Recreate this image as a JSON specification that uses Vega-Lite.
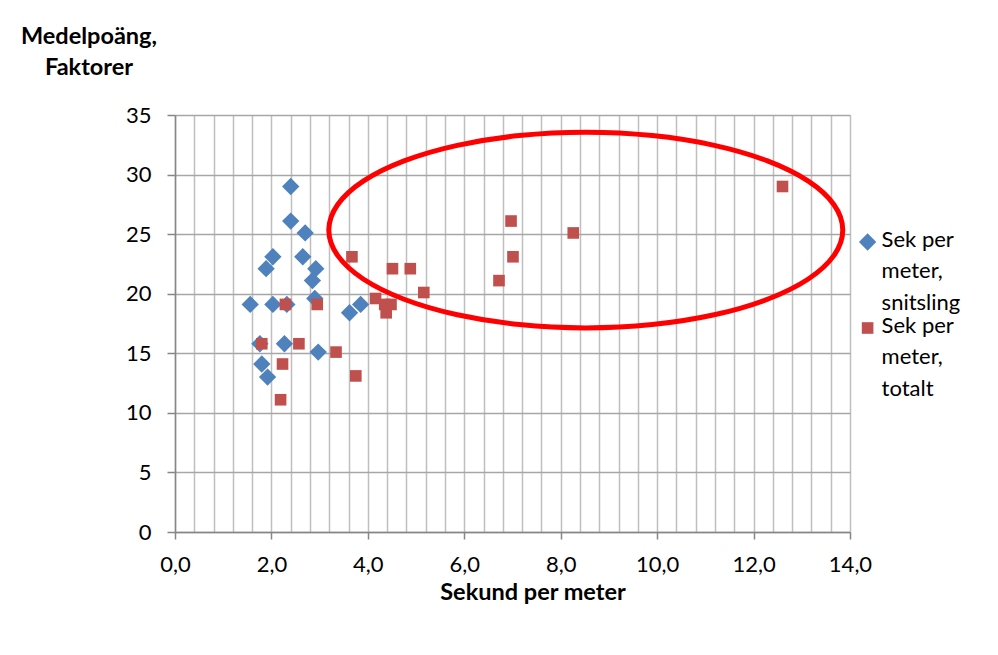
{
  "$schema": "https://vega.github.io/schema/vega-lite/v6.json",
  "width": 675,
  "height": 417,
  "autosize": {"type": "none"},
  "padding": {"left": 175, "top": 115, "right": 148, "bottom": 123},
  "background": "white",
  "config": {"view": {"stroke": null}, "font": "Lato"},
  "datasets": {
    "points": [
      {"sek": 2.4, "poang": 29, "serie": "Sek per meter, snitsling"},
      {"sek": 2.4, "poang": 26.1, "serie": "Sek per meter, snitsling"},
      {"sek": 2.7, "poang": 25.1, "serie": "Sek per meter, snitsling"},
      {"sek": 2.03, "poang": 23.1, "serie": "Sek per meter, snitsling"},
      {"sek": 2.65, "poang": 23.1, "serie": "Sek per meter, snitsling"},
      {"sek": 1.89, "poang": 22.1, "serie": "Sek per meter, snitsling"},
      {"sek": 2.92, "poang": 22.1, "serie": "Sek per meter, snitsling"},
      {"sek": 2.85, "poang": 21.1, "serie": "Sek per meter, snitsling"},
      {"sek": 2.9, "poang": 19.6, "serie": "Sek per meter, snitsling"},
      {"sek": 1.56, "poang": 19.1, "serie": "Sek per meter, snitsling"},
      {"sek": 2.03, "poang": 19.1, "serie": "Sek per meter, snitsling"},
      {"sek": 2.32, "poang": 19.1, "serie": "Sek per meter, snitsling"},
      {"sek": 3.62, "poang": 18.4, "serie": "Sek per meter, snitsling"},
      {"sek": 3.85, "poang": 19.1, "serie": "Sek per meter, snitsling"},
      {"sek": 1.76, "poang": 15.8, "serie": "Sek per meter, snitsling"},
      {"sek": 2.27, "poang": 15.8, "serie": "Sek per meter, snitsling"},
      {"sek": 2.97, "poang": 15.1, "serie": "Sek per meter, snitsling"},
      {"sek": 1.8, "poang": 14.1, "serie": "Sek per meter, snitsling"},
      {"sek": 1.92, "poang": 13.0, "serie": "Sek per meter, snitsling"},
      {"sek": 12.6, "poang": 29, "serie": "Sek per meter, totalt"},
      {"sek": 6.97, "poang": 26.1, "serie": "Sek per meter, totalt"},
      {"sek": 8.26, "poang": 25.1, "serie": "Sek per meter, totalt"},
      {"sek": 7.01, "poang": 23.1, "serie": "Sek per meter, totalt"},
      {"sek": 6.72, "poang": 21.1, "serie": "Sek per meter, totalt"},
      {"sek": 3.67, "poang": 23.1, "serie": "Sek per meter, totalt"},
      {"sek": 4.51, "poang": 22.1, "serie": "Sek per meter, totalt"},
      {"sek": 4.88, "poang": 22.1, "serie": "Sek per meter, totalt"},
      {"sek": 5.16, "poang": 20.1, "serie": "Sek per meter, totalt"},
      {"sek": 4.16, "poang": 19.6, "serie": "Sek per meter, totalt"},
      {"sek": 4.35, "poang": 19.1, "serie": "Sek per meter, totalt"},
      {"sek": 4.48, "poang": 19.1, "serie": "Sek per meter, totalt"},
      {"sek": 4.38, "poang": 18.4, "serie": "Sek per meter, totalt"},
      {"sek": 2.29, "poang": 19.1, "serie": "Sek per meter, totalt"},
      {"sek": 2.95, "poang": 19.1, "serie": "Sek per meter, totalt"},
      {"sek": 1.8, "poang": 15.8, "serie": "Sek per meter, totalt"},
      {"sek": 2.57, "poang": 15.8, "serie": "Sek per meter, totalt"},
      {"sek": 3.34, "poang": 15.1, "serie": "Sek per meter, totalt"},
      {"sek": 2.23, "poang": 14.1, "serie": "Sek per meter, totalt"},
      {"sek": 3.75, "poang": 13.1, "serie": "Sek per meter, totalt"},
      {"sek": 2.19, "poang": 11.1, "serie": "Sek per meter, totalt"}
    ],
    "ellipse": [
      {"i": 0, "sek": 13.85, "poang": 25.34},
      {"i": 1, "sek": 13.668, "poang": 27.465},
      {"i": 2, "sek": 13.136, "poang": 29.445},
      {"i": 3, "sek": 12.289, "poang": 31.145},
      {"i": 4, "sek": 11.185, "poang": 32.45},
      {"i": 5, "sek": 9.899, "poang": 33.27},
      {"i": 6, "sek": 8.52, "poang": 33.55},
      {"i": 7, "sek": 7.141, "poang": 33.27},
      {"i": 8, "sek": 5.855, "poang": 32.45},
      {"i": 9, "sek": 4.751, "poang": 31.145},
      {"i": 10, "sek": 3.904, "poang": 29.445},
      {"i": 11, "sek": 3.372, "poang": 27.465},
      {"i": 12, "sek": 3.19, "poang": 25.34},
      {"i": 13, "sek": 3.372, "poang": 23.215},
      {"i": 14, "sek": 3.904, "poang": 21.235},
      {"i": 15, "sek": 4.751, "poang": 19.535},
      {"i": 16, "sek": 5.855, "poang": 18.23},
      {"i": 17, "sek": 7.141, "poang": 17.41},
      {"i": 18, "sek": 8.52, "poang": 17.13},
      {"i": 19, "sek": 9.899, "poang": 17.41},
      {"i": 20, "sek": 11.185, "poang": 18.23},
      {"i": 21, "sek": 12.289, "poang": 19.535},
      {"i": 22, "sek": 13.136, "poang": 21.235},
      {"i": 23, "sek": 13.668, "poang": 23.215}
    ]
  },
  "layer": [
    {
      "data": {"name": "points"},
      "mark": {"type": "point", "filled": true, "opacity": 1, "strokeWidth": 0},
      "encoding": {
        "x": {
          "field": "sek", "type": "quantitative",
          "scale": {"domain": [0, 14], "nice": false, "zero": false},
          "axis": {
            "title": "Sekund per meter",
            "values": [0, 0.4, 0.8, 1.2, 1.6, 2, 2.4, 2.8, 3.2, 3.6, 4, 4.4, 4.8, 5.2, 5.6, 6, 6.4, 6.8, 7.2, 7.6, 8, 8.4, 8.8, 9.2, 9.6, 10, 10.4, 10.8, 11.2, 11.6, 12, 12.4, 12.8, 13.2, 13.6, 14],
            "tickCount": 100,
            "grid": true, "gridColor": "#BFBFBF", "gridWidth": 1.5,
            "domainColor": "#868686", "domainWidth": 1.5,
            "ticks": true, "tickSize": 7, "tickColor": "#868686", "tickWidth": 1.5,
            "tickOpacity": {"condition": {"test": "datum.value % 2 === 0", "value": 1}, "value": 0},
            "labelExpr": "datum.value % 2 === 0 ? replace(format(datum.value, '.1f'), '.', ',') : ''",
            "labelOverlap": false, "labelFlush": false, "labelPadding": 15,
            "labelFontSize": 22, "labelColor": "black", "labelFont": "Lato",
            "titleFont": "Lato", "titleFontSize": 23.5, "titleFontWeight": "bold", "titleColor": "black",
            "titleX": 357.5, "titleY": 48.7, "titleBaseline": "top", "titleAlign": "center"
          }
        },
        "y": {
          "field": "poang", "type": "quantitative",
          "scale": {"domain": [0, 35], "nice": false},
          "axis": {
            "title": ["Medelpoäng,", "Faktorer"],
            "values": [0, 5, 10, 15, 20, 25, 30, 35],
            "grid": true, "gridColor": "#A6A6A6", "gridWidth": 1.5,
            "domainColor": "#868686", "domainWidth": 1.5,
            "tickSize": 8, "tickColor": "#868686", "tickWidth": 1.5,
            "labelPadding": 16, "labelFontSize": 22, "labelColor": "black", "labelFont": "Lato",
            "titleAngle": 0, "titleAlign": "center", "titleBaseline": "top",
            "titleX": -86.5, "titleY": -90.3, "titleLineHeight": 30.7,
            "titleFont": "Lato", "titleFontSize": 23.5, "titleFontWeight": "bold", "titleColor": "black"
          }
        },
        "color": {
          "field": "serie", "type": "nominal",
          "scale": {"domain": ["Sek per meter, snitsling", "Sek per meter, totalt"], "range": ["#4F81BD", "#C0504D"]},
          "legend": {
            "orient": "none", "legendX": 681.6, "legendY": 116,
            "title": null, "padding": 0, "symbolOffset": 0, "labelOffset": 3, "rowPadding": 0,
            "labelFontSize": 22, "labelColor": "black", "labelFont": "Lato", "labelBaseline": "top",
            "labelExpr": "split(replace(replace(datum.label, ' meter,', '|meter,|'), '| ', '|'), '|')",
            "symbolStrokeWidth": 0, "symbolOpacity": 1,
            "encoding": {"labels": {"lineHeight": {"value": 31.5}, "dy": {"value": -12.5}}}
          }
        },
        "shape": {
          "field": "serie", "type": "nominal",
          "scale": {"domain": ["Sek per meter, snitsling", "Sek per meter, totalt"], "range": ["diamond", "square"]}
        },
        "size": {
          "field": "serie", "type": "nominal",
          "scale": {"domain": ["Sek per meter, snitsling", "Sek per meter, totalt"], "range": [300, 135]}
        }
      }
    },
    {
      "data": {"name": "ellipse"},
      "mark": {"type": "line", "interpolate": "cardinal-closed", "color": "#FF0000", "strokeWidth": 5},
      "encoding": {
        "x": {"field": "sek", "type": "quantitative"},
        "y": {"field": "poang", "type": "quantitative"},
        "order": {"field": "i", "type": "quantitative"}
      }
    }
  ]
}
